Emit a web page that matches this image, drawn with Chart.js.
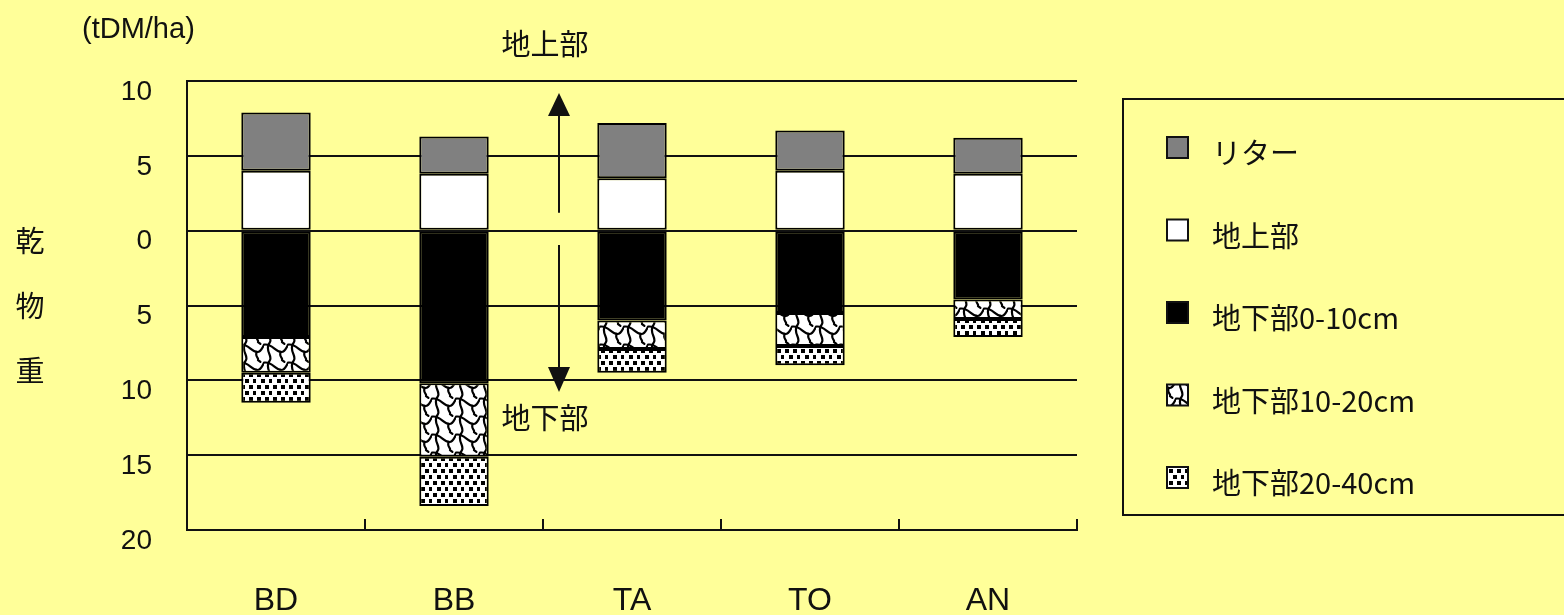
<!DOCTYPE html>
<html><head><meta charset="utf-8">
<script src="https://cdn.jsdelivr.net/npm/chart.js@4/dist/chart.umd.min.js"></script>
<style>html,body{margin:0;padding:0;background:#FFFF99;overflow:hidden}canvas{display:block}</style>
</head><body>
<canvas id="c" width="1564" height="615"></canvas>
<script>
const categories = ['BD', 'BB', 'TA', 'TO', 'AN'];
const seriesLabels = ['リター', '地上部', '地下部0-10cm', '地下部10-20cm', '地下部20-40cm'];
const litter      = [3.9, 2.5, 3.7, 2.7, 2.4];
const aboveGround = [4.0, 3.8, 3.5, 4.0, 3.8];
const below0to10  = [-7.1, -10.2, -6.0, -5.5, -4.6];
const below10to20 = [-2.4, -4.9, -1.9, -2.2, -1.3];
const below20to40 = [-2.0, -3.3, -1.6, -1.3, -1.2];
const yTicks = [10, 5, 0, -5, -10, -15, -20];
const yUnit = '(tDM/ha)';
const yTitle = ['乾', '物', '重'];
const upLabel = '地上部';
const downLabel = '地下部';

const LATIN = '"Liberation Sans", Arial, sans-serif';
const CJK = '"Noto Sans CJK JP", "Noto Sans", sans-serif';

function makePattern(draw, w, h) {
  const c = document.createElement('canvas');
  c.width = w; c.height = h;
  const g = c.getContext('2d');
  g.fillStyle = '#ffffff';
  g.fillRect(0, 0, w, h);
  draw(g, w, h);
  return document.getElementById('c').getContext('2d').createPattern(c, 'repeat');
}
const scalePattern = makePattern((g, w, h) => {
  g.strokeStyle = '#000'; g.lineWidth = 2.2; g.lineCap = 'round';
  g.beginPath();
  g.moveTo(0, h * 0.15);
  g.bezierCurveTo(w * 0.3, h * 0.05, w * 0.45, h * 0.5, w * 0.7, h * 0.55);
  g.bezierCurveTo(w * 0.85, h * 0.6, w * 0.95, h * 0.3, w, h * 0.15);
  g.stroke();
  g.beginPath();
  g.moveTo(w * 0.2, h * 0.12);
  g.bezierCurveTo(w * 0.05, h * 0.5, w * 0.35, h * 0.75, w * 0.25, h);
  g.stroke();
  g.beginPath();
  g.moveTo(w * 0.7, h * 0.55);
  g.bezierCurveTo(w * 0.6, h * 0.8, w * 0.8, h * 0.9, w * 0.75, h);
  g.stroke();
  g.beginPath();
  g.moveTo(w * 0.25, 0);
  g.lineTo(w * 0.2, h * 0.12);
  g.moveTo(w * 0.75, 0);
  g.lineTo(w * 0.85, h * 0.1);
  g.stroke();
}, 24, 18);
const dotPattern = makePattern((g) => {
  g.fillStyle = '#000';
  [[1, 1], [9, 1], [5, 7], [13, 7]].forEach(([x, y]) => g.fillRect(x, y, 4, 4));
}, 16, 12);

const fills = ['#808080', '#ffffff', '#000000', scalePattern, dotPattern];
const seriesData = [litter, aboveGround, below0to10, below10to20, below20to40];
// stacking order: above-ground first from zero, then litter; below-ground layers downward
const stackOrder = [1, 0, 2, 3, 4];

const datasets = stackOrder.map(i => ({
  label: seriesLabels[i],
  data: seriesData[i],
  backgroundColor: fills[i],
  borderColor: '#000',
  borderWidth: 2,
  borderSkipped: false,
  barPercentage: 0.39,
  categoryPercentage: 1.0
}));

const decor = {
  id: 'decor',
  afterDraw(chart) {
    const ctx = chart.ctx;
    const xs = chart.scales.x, ys = chart.scales.y;
    const area = chart.chartArea;
    ctx.save();
    // inward tick marks on category axis
    ctx.strokeStyle = '#111'; ctx.lineWidth = 2;
    for (let i = 0; i <= categories.length; i++) {
      const x = xs.getPixelForValue(i - 0.5);
      ctx.beginPath(); ctx.moveTo(x, area.bottom); ctx.lineTo(x, area.bottom - 11); ctx.stroke();
    }
    // unit label
    ctx.fillStyle = '#111';
    ctx.textBaseline = 'middle';
    ctx.textAlign = 'left';
    ctx.font = '29px ' + LATIN;
    ctx.fillText(yUnit, 82, 30);
    // vertical axis title
    ctx.font = '29px ' + CJK;
    ctx.textAlign = 'center';
    yTitle.forEach((ch, k) => ctx.fillText(ch, 30, 241 + k * 65));
    // arrows
    const ax = (xs.getPixelForValue(1) + xs.getPixelForValue(2)) / 2 + 16;
    ctx.fillText(upLabel, ax - 14, 44);
    ctx.fillText(downLabel, ax - 14, 418);
    ctx.strokeStyle = '#111'; ctx.lineWidth = 2;
    ctx.beginPath(); ctx.moveTo(ax, ys.getPixelForValue(1.2)); ctx.lineTo(ax, 116); ctx.stroke();
    ctx.beginPath(); ctx.moveTo(ax, 93); ctx.lineTo(ax - 11, 116); ctx.lineTo(ax + 11, 116); ctx.closePath(); ctx.fill();
    ctx.beginPath(); ctx.moveTo(ax, ys.getPixelForValue(-0.95)); ctx.lineTo(ax, 368); ctx.stroke();
    ctx.beginPath(); ctx.moveTo(ax, 392); ctx.lineTo(ax - 11, 367); ctx.lineTo(ax + 11, 367); ctx.closePath(); ctx.fill();
    // legend box
    ctx.lineWidth = 2; ctx.strokeStyle = '#111';
    ctx.strokeRect(1123, 99, 520, 416);
    ctx.font = '29px ' + CJK;
    ctx.textAlign = 'left';
    seriesLabels.forEach((lab, i) => {
      const cy = 153 + i * 82.5;
      ctx.fillStyle = fills[i];
      ctx.fillRect(1167, cy - 16, 21, 21);
      ctx.lineWidth = 2; ctx.strokeStyle = '#111';
      ctx.strokeRect(1167, cy - 16, 21, 21);
      ctx.fillStyle = '#111';
      ctx.fillText(lab, 1212, cy);
    });
    ctx.restore();
  }
};

new Chart(document.getElementById('c'), {
  type: 'bar',
  data: { labels: categories, datasets },
  options: {
    responsive: false,
    animation: false,
    devicePixelRatio: 1,
    layout: { padding: { top: 81, right: 487, bottom: 0, left: 0 } },
    plugins: { legend: { display: false }, tooltip: { enabled: false } },
    scales: {
      x: {
        stacked: true,
        afterFit: s => { s.height = 85; },
        grid: { display: true, drawOnChartArea: false, drawTicks: false, offset: true },
        border: { display: true, color: '#111', width: 2 },
        ticks: { color: '#111', font: { family: LATIN, size: 32 }, padding: 52 }
      },
      y: {
        stacked: true,
        min: -20, max: 10,
        afterFit: s => { s.width = 187; },
        afterBuildTicks: s => { s.ticks = yTicks.map(v => ({ value: v })); },
        grid: { color: '#111', lineWidth: 2, drawTicks: false },
        border: { display: true, color: '#111', width: 2 },
        ticks: {
          color: '#111', font: { family: LATIN, size: 28 }, padding: 35, labelOffset: 11,
          callback: v => String(Math.abs(v))
        }
      }
    }
  },
  plugins: [decor]
});
</script>
</body></html>
